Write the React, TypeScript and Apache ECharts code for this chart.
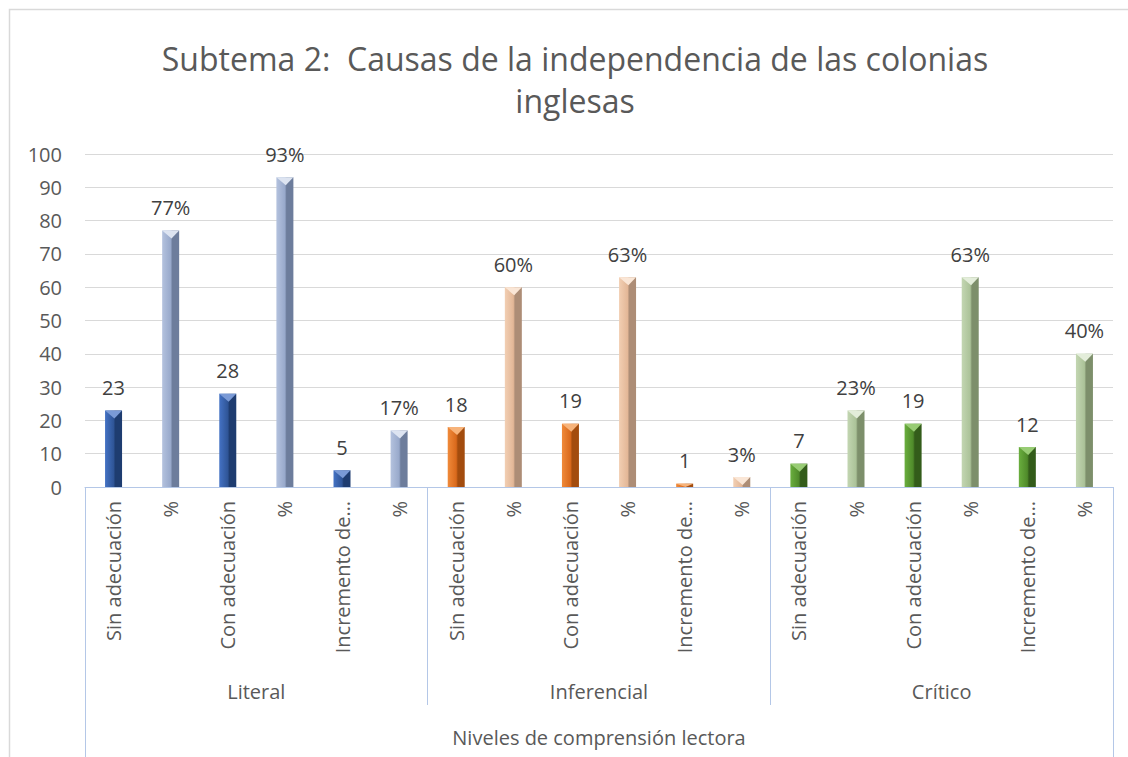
import React, { useEffect, useRef } from "react";
import * as echarts from "echarts";

const titleLines = ["Subtema 2:  Causas de la independencia de las colonias", "inglesas"];
const groups = ["Literal", "Inferencial", "Crítico"];
const outerLabel = "Niveles de comprensión lectora";
const subCategories = ["Sin adecuación", "%", "Con adecuación", "%", "Incremento de…", "%"];
const literalValues = [23, 77, 28, 93, 5, 17];
const inferencialValues = [18, 60, 19, 63, 1, 3];
const criticoValues = [7, 23, 19, 63, 12, 40];
const isPercent = [false, true, false, true, false, true];
const yTicks = { min: 0, max: 100, interval: 10 };

// [front light, front, dark side, bevel]
const palette = [
  { count: ["#4472C4", "#2F5597", "#1E3C70", "#7A9AD6"], pct: ["#B4C2DE", "#98A9CB", "#6D7D9C", "#DDE4F1"] },
  { count: ["#F08A3A", "#D9691C", "#A34C0E", "#F7B37A"], pct: ["#F2CFB3", "#E3B797", "#AD8D76", "#FAE6D6"] },
  { count: ["#6AAE3E", "#4F8A2A", "#335C1A", "#98CC74"], pct: ["#C3D6B2", "#ABC298", "#7D8F6B", "#E3EDDA"] },
];

function grad(c: string[]) {
  return new echarts.graphic.LinearGradient(0, 0, 1, 0, [
    { offset: 0, color: c[0] },
    { offset: 0.5, color: c[1] },
    { offset: 0.6, color: c[2] },
    { offset: 1, color: c[2] },
  ]);
}

const BAR_W = 17;

export default function App() {
  const ref = useRef<HTMLDivElement>(null);
  useEffect(() => {
    if (!ref.current) return;
    const chart = echarts.init(ref.current, null, { renderer: "svg" });
    const all = [literalValues, inferencialValues, criticoValues];
    const cats: string[] = [];
    const data: any[] = [];
    const bevel: any[] = [];
    all.forEach((vals, g) => {
      vals.forEach((v, i) => {
        cats.push(subCategories[i]);
        const pct = isPercent[i];
        const c = pct ? palette[g].pct : palette[g].count;
        data.push({
          value: v,
          itemStyle: { color: grad(c) },
          label: { formatter: pct ? `${v}%` : `${v}` },
        });
        bevel.push({ value: [cats.length - 1, v], itemStyle: { color: c[3] } });
      });
    });
    const font = "'Open Sans', sans-serif";
    const lineColor = "#B4C7E7";
    const fs = 20;
    chart.setOption({
      animation: false,
      textStyle: { fontFamily: font },
      grid: { left: 85, right: 15, top: 154, bottom: 270 },
      graphic: [
        {
          type: "rect",
          shape: { x: 9.5, y: 9.5, width: 1140, height: 770 },
          style: { fill: "none", stroke: "#D9D9D9", lineWidth: 1.5 },
          silent: true,
        },
        ...titleLines.map((t, i) => ({
          type: "text",
          x: 575,
          y: 58 + i * 42,
          style: {
            text: t,
            font: `32px ${font}`,
            fill: "#595959",
            align: "center",
            verticalAlign: "middle",
          },
        })),
      ],
      xAxis: [
        {
          type: "category",
          data: cats,
          axisLine: { show: true, lineStyle: { color: lineColor, width: 1 } },
          axisTick: { show: false },
          axisLabel: {
            rotate: 90,
            interval: 0,
            margin: 14,
            fontSize: fs,
            color: "#595959",
            fontFamily: font,
          },
        },
        {
          type: "category",
          data: groups,
          position: "bottom",
          axisLine: { show: false },
          axisTick: { show: true, length: 218, lineStyle: { color: lineColor } },
          axisLabel: { margin: 194, fontSize: fs, color: "#595959", fontFamily: font },
        },
        {
          type: "category",
          data: [outerLabel],
          position: "bottom",
          axisLine: { show: false },
          axisTick: { show: true, length: 270, lineStyle: { color: lineColor } },
          axisLabel: { margin: 240, fontSize: fs, color: "#595959", fontFamily: font },
        },
      ],
      yAxis: {
        type: "value",
        min: yTicks.min,
        max: yTicks.max,
        interval: yTicks.interval,
        axisLine: { show: false },
        axisTick: { show: false },
        axisLabel: { fontSize: fs, color: "#595959", margin: 23, fontFamily: font },
        splitLine: { lineStyle: { color: "#D9D9D9", width: 1 } },
      },
      series: [
        {
          type: "bar",
          xAxisIndex: 0,
          data,
          barWidth: BAR_W,
          label: {
            show: true,
            position: "top",
            distance: 13,
            fontSize: fs,
            color: "#404040",
            fontFamily: font,
          },
        },
        {
          type: "custom",
          xAxisIndex: 0,
          data: bevel,
          z: 3,
          silent: true,
          renderItem: (params: any, api: any) => {
            const top = api.coord([api.value(0), api.value(1)]);
            const base = api.coord([api.value(0), 0]);
            const h = base[1] - top[1];
            const d = Math.min(8, h);
            const x0 = top[0] - BAR_W / 2;
            const x1 = top[0] + BAR_W / 2;
            const xm = x0 + BAR_W * 0.55;
            return {
              type: "polygon",
              shape: { points: [[x0, top[1]], [x1, top[1]], [xm, top[1] + d]] },
              style: { fill: api.visual("color") },
            };
          },
        },
      ],
    });
    return () => chart.dispose();
  }, []);
  return (
    <div
      ref={ref}
      style={{ position: "fixed", left: 0, top: 0, width: 1128, height: 757, background: "#fff" }}
    />
  );
}
